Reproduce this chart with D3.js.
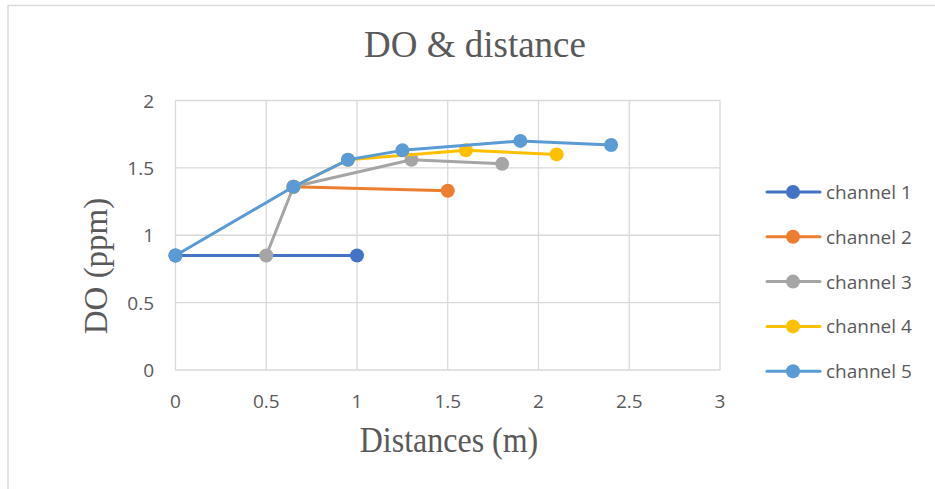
<!DOCTYPE html>
<html><head><meta charset="utf-8">
<script src="https://cdn.jsdelivr.net/npm/d3@7"></script>
<style>body{margin:0;background:#fff}svg{display:block}</style>
</head><body>
<svg id="c" width="935" height="489"></svg>
<script>
const seriesNames = ["channel 1","channel 2","channel 3","channel 4","channel 5"];
const colors = ["#4472C4","#ED7D31","#A5A5A5","#FFC000","#5B9BD5"];
const ch1 = [[0,0.85],[1,0.85]];
const ch2 = [[0.65,1.36],[1.5,1.33]];
const ch3 = [[0.5,0.85],[0.65,1.36],[1.3,1.56],[1.8,1.53]];
const ch4 = [[0.65,1.36],[0.95,1.56],[1.6,1.63],[2.1,1.60]];
const ch5 = [[0,0.85],[0.65,1.36],[0.95,1.56],[1.25,1.63],[1.9,1.70],[2.4,1.67]];
const series = [ch1,ch2,ch3,ch4,ch5];
const xTicks = [0,0.5,1,1.5,2,2.5,3];
const yTicks = [0,0.5,1,1.5,2];

const svg = d3.select("#c");
svg.append("path").attr("d","M8,489 V5.5 H935").attr("fill","none").attr("stroke","#d9d9d9").attr("stroke-width",1.5);

const x = d3.scaleLinear().domain([0,3]).range([175.5,720]);
const y = d3.scaleLinear().domain([0,2]).range([370,100.5]);

const g = svg.append("g");
g.selectAll(".vg").data(xTicks).join("line")
 .attr("x1",d=>x(d)).attr("x2",d=>x(d)).attr("y1",y(0)).attr("y2",y(2))
 .attr("stroke","#d9d9d9").attr("stroke-width",1.3);
g.selectAll(".hg").data(yTicks).join("line")
 .attr("x1",x(0)).attr("x2",x(3)).attr("y1",d=>y(d)).attr("y2",d=>y(d))
 .attr("stroke","#d9d9d9").attr("stroke-width",1.3);

const font = "'Open Sans', 'Liberation Sans', Arial, sans-serif";
g.selectAll(".xl").data(xTicks).join("text")
 .attr("x",d=>x(d)).attr("y",408).attr("text-anchor","middle")
 .attr("font-family",font).attr("font-size",19).attr("fill","#595959").text(d=>d);
g.selectAll(".yl").data(yTicks).join("text")
 .attr("x",154).attr("y",d=>y(d)+7).attr("text-anchor","end")
 .attr("font-family",font).attr("font-size",19).attr("fill","#595959").text(d=>d);

const serif = "'Liberation Serif','Times New Roman',serif";
svg.append("text").attr("x",475).attr("y",57).attr("text-anchor","middle")
 .attr("font-family",serif).attr("font-size",37).attr("fill","#595959").text("DO & distance");
svg.append("text").attr("transform","translate(449,452) scale(1,1.1)").attr("text-anchor","middle")
 .attr("font-family",serif).attr("font-size",32).attr("fill","#595959").text("Distances (m)");
svg.append("text").attr("transform","translate(107,266) rotate(-90) scale(1,1.05)").attr("text-anchor","middle")
 .attr("font-family",serif).attr("font-size",33).attr("fill","#595959").text("DO (ppm)");

const line = d3.line().x(d=>x(d[0])).y(d=>y(d[1]));
series.forEach((s,i)=>{
  const sg = svg.append("g");
  sg.append("path").attr("d",line(s)).attr("fill","none").attr("stroke",colors[i])
    .attr("stroke-width",3).attr("stroke-linejoin","round").attr("stroke-linecap","round");
  sg.selectAll("circle").data(s).join("circle").attr("cx",d=>x(d[0])).attr("cy",d=>y(d[1]))
    .attr("r",7).attr("fill",colors[i]);
});

const lg = svg.append("g");
seriesNames.forEach((n,i)=>{
  const yy = 192 + i*44.8;
  lg.append("line").attr("x1",767).attr("x2",820).attr("y1",yy).attr("y2",yy)
    .attr("stroke",colors[i]).attr("stroke-width",3).attr("stroke-linecap","round");
  lg.append("circle").attr("cx",793).attr("cy",yy).attr("r",7).attr("fill",colors[i]);
  lg.append("text").attr("x",826).attr("y",yy+7).attr("font-family",font).attr("font-size",19)
    .attr("fill","#595959").text(n);
});
</script>
</body></html>
